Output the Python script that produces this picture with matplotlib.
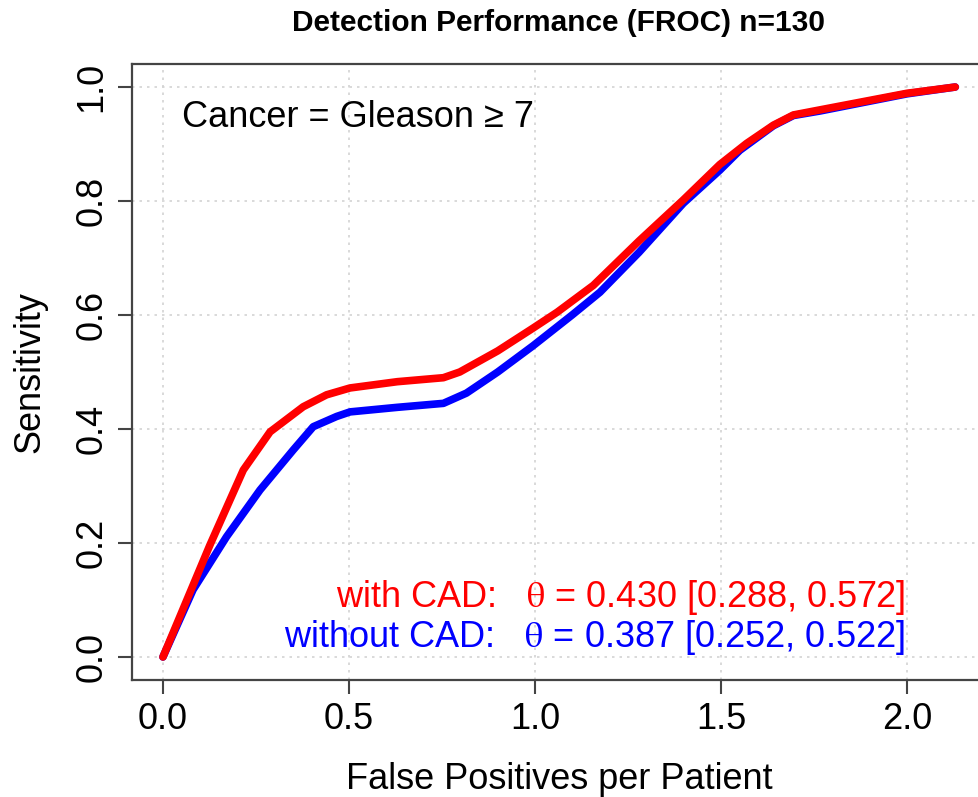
import matplotlib
matplotlib.use("Agg")
import matplotlib.pyplot as plt

# FROC curves
fp_cad = [0.0, 0.126, 0.216, 0.288, 0.377, 0.44, 0.503, 0.63, 0.754, 0.798, 0.90,
          0.995, 1.06, 1.157, 1.28, 1.399, 1.497, 1.569, 1.641, 1.695, 1.767, 2.0, 2.13]
sens_cad = [0.0, 0.196, 0.328, 0.395, 0.439, 0.46, 0.472, 0.483, 0.490, 0.500, 0.537,
            0.577, 0.605, 0.652, 0.73, 0.802, 0.864, 0.901, 0.933, 0.951, 0.960, 0.989, 1.0]

fp_nocad = [0.0, 0.081, 0.171, 0.261, 0.350, 0.404, 0.467, 0.503, 0.63, 0.754, 0.816,
            0.90, 0.995, 1.10, 1.175, 1.28, 1.399, 1.497, 1.551, 1.641, 1.695, 1.767,
            2.0, 2.13]
sens_nocad = [0.0, 0.118, 0.211, 0.293, 0.363, 0.404, 0.422, 0.430, 0.438, 0.445, 0.463,
              0.50, 0.546, 0.600, 0.640, 0.71, 0.796, 0.854, 0.889, 0.932, 0.950, 0.958,
              0.988, 1.0]

theta_cad = (0.430, 0.288, 0.572)
theta_nocad = (0.387, 0.252, 0.522)
n_patients = 130

plt.rcParams["font.family"] = ["Liberation Sans", "DejaVu Sans"]
plt.rcParams["mathtext.fontset"] = "stix"

fig = plt.figure(figsize=(9.79, 7.97), dpi=100)
ax = fig.add_axes([0.1348, 0.1468, 0.8732, 0.7729])

xt = [0.0, 0.5, 1.0, 1.5, 2.0]
yt = [0.0, 0.2, 0.4, 0.6, 0.8, 1.0]
for v in xt:
    ax.axvline(v, color="#d3d3d3", lw=1.2, ls=(0, (1.5, 3)), zorder=0)
for v in yt:
    ax.axhline(v, color="#d3d3d3", lw=1.2, ls=(0, (1.5, 3)), zorder=0)

ax.plot(fp_nocad, sens_nocad, color="blue", lw=5.5, solid_capstyle="round",
        solid_joinstyle="round")
ax.plot(fp_cad, sens_cad, color="red", lw=5.5, solid_capstyle="round",
        solid_joinstyle="round")

ax.set_xlim(-0.0833, 2.215)
ax.set_ylim(-0.0404, 1.0404)
ax.set_xticks(xt)
ax.set_xticklabels([f"{v:.1f}" for v in xt])
ax.set_yticks(yt)
ax.set_yticklabels([f"{v:.1f}" for v in yt], rotation=90, va="center")
ax.tick_params(direction="out", length=10, width=1.5, color="#444444",
               labelsize=26, pad=6)
for s in ax.spines.values():
    s.set_color("#444444")
    s.set_linewidth(1.6)

ax.set_xlabel("False Positives per Patient", fontsize=26, labelpad=18)
ax.set_ylabel("Sensitivity", fontsize=26, labelpad=20)
fig.text(0.57, 1 - 23 / 797, f"Detection Performance (FROC) n={n_patients}",
         ha="center", va="center", fontsize=21.5, fontweight="bold")

ax.text(0.051, 0.947, "Cancer = Gleason \u2265 7", fontsize=26,
        ha="left", va="center")
ax.text(1.995, 0.105,
        "with CAD:   $\\mathrm{\\theta}$ = %.3f [%.3f, %.3f]" % theta_cad,
        color="red", fontsize=26, ha="right", va="center")
ax.text(1.995, 0.035,
        "without CAD:   $\\mathrm{\\theta}$ = %.3f [%.3f, %.3f]" % theta_nocad,
        color="blue", fontsize=26, ha="right", va="center")

fig.savefig("out.png", dpi=100)
